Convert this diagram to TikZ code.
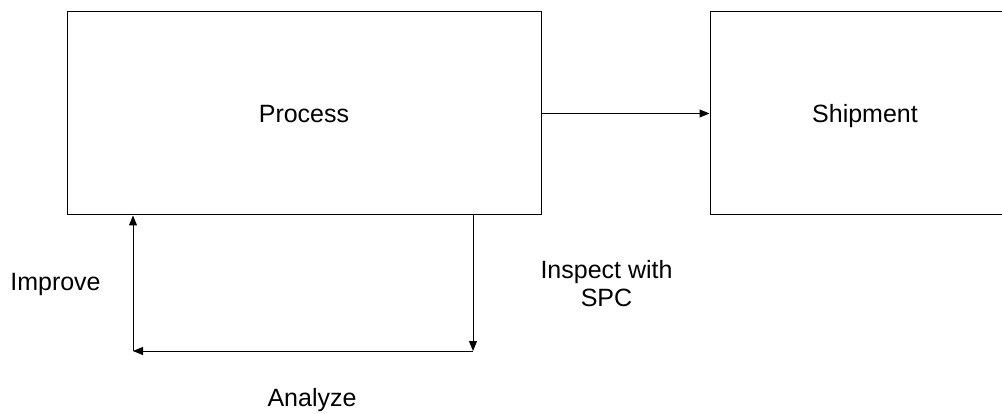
\documentclass[tikz,border=0pt]{standalone}
\usepackage{fontspec}
\setmainfont{Liberation Sans}
\usetikzlibrary{arrows.meta}
\begin{document}
\begin{tikzpicture}[x=1pt,y=-1pt,
  box/.style={draw=black,line width=1pt,minimum width=#1,minimum height=203pt,inner sep=0pt,
    text height=18pt,text depth=0pt},
  arr/.style={draw=black,line width=1pt,-{Triangle[length=10pt,width=8pt]}},
  lbl/.style={font=\fontsize{25}{28}\selectfont,inner sep=0pt,align=center}]
  \useasboundingbox (0,0) rectangle (1002,414);
  \clip (0,0) rectangle (1002,414);
  % main boxes
  \node[box=474pt,lbl] (process) at (304,113.5) {Process};
  \node[box=310pt,lbl] (shipment) at (865,113.5) {Shipment};
  \draw[arr] (process.east) -- (shipment.west);
  % feedback loop under the process box
  \coordinate (inspectEnd) at (473,351);
  \coordinate (analyzeEnd) at (133,351);
  \draw[arr] (process.south -| inspectEnd) -- (inspectEnd);
  \draw[arr] (inspectEnd) -- (analyzeEnd);
  \draw[arr] (analyzeEnd) -- (analyzeEnd |- process.south);
  % labels
  \node[lbl] (improve) at (55.5,284) {Improve};
  \node[lbl] (inspect) at (606.5,284) {Inspect with\\SPC};
  \node[lbl] (analyze) at (312,400) {Analyze};
\end{tikzpicture}
\end{document}
